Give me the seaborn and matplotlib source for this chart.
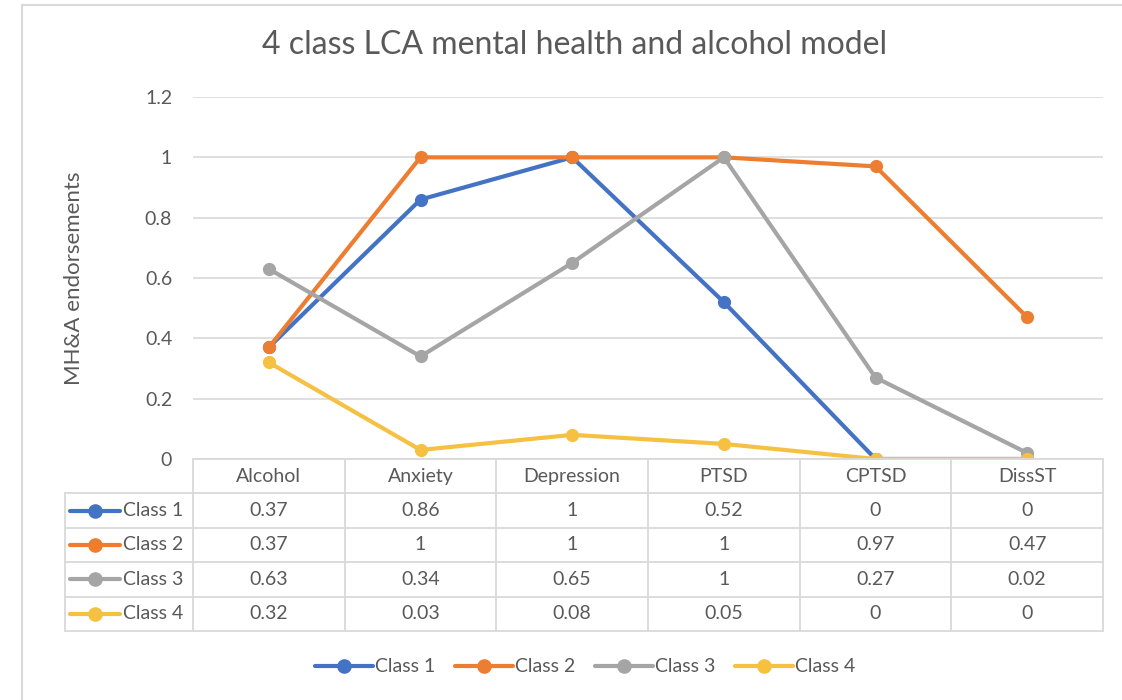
import pandas as pd
import seaborn as sns
import matplotlib.pyplot as plt
from matplotlib.lines import Line2D

# data
categories = ['Alcohol', 'Anxiety', 'Depression', 'PTSD', 'CPTSD', 'DissST']
class_names = ['Class 1', 'Class 2', 'Class 3', 'Class 4']
class1 = [0.37, 0.86, 1, 0.52, 0, 0]
class2 = [0.37, 1, 1, 1, 0.97, 0.47]
class3 = [0.63, 0.34, 0.65, 1, 0.27, 0.02]
class4 = [0.32, 0.03, 0.08, 0.05, 0, 0]
values = [class1, class2, class3, class4]
colors = ['#4472C4', '#ED7D31', '#A5A5A5', '#F6C142']

rows = []
for name, vals in zip(class_names, values):
    for cat, v in zip(categories, vals):
        rows.append({'Category': cat, 'Class': name, 'Value': v})
df = pd.DataFrame(rows)

sns.set_style('white')
plt.rcParams['font.family'] = ['Lato', 'DejaVu Sans']
text_col = '#595959'
grid_col = '#D9D9D9'

W, H = 1122, 700
fig = plt.figure(figsize=(W / 100, H / 100), dpi=100)

def px(x0, y0, x1, y1):
    return [x0 / W, 1 - y1 / H, (x1 - x0) / W, (y1 - y0) / H]

# main plot area
ax = fig.add_axes(px(193, 97, 1103, 459))
sns.lineplot(data=df, x='Category', y='Value', hue='Class', palette=colors,
             sort=False, marker='o', markersize=9.5, markeredgewidth=0,
             linewidth=3, ax=ax, legend=False)
ax.set_xlim(-0.5, 5.5)
ax.set_ylim(0, 1.2)
ax.set_yticks([0, 0.2, 0.4, 0.6, 0.8, 1, 1.2])
ax.set_yticklabels(['0', '0.2', '0.4', '0.6', '0.8', '1', '1.2'])
ax.tick_params(axis='y', length=0, pad=15, labelsize=14, labelcolor=text_col)
ax.set_xticks([])
ax.set_xlabel('')
ax.set_ylabel('MH&A endorsements', fontsize=16, color=text_col, labelpad=44)
ax.grid(axis='y', color=grid_col, linewidth=1.2)
ax.set_axisbelow(True)
for s in ax.spines.values():
    s.set_visible(False)

# data table under the plot
unit = (1103 - 193) / 6
tx0 = -0.5 - (193 - 65) / unit
tab = fig.add_axes(px(65, 459, 1103, 631))
tab.set_xlim(tx0, 5.5)
tab.set_ylim(5, 0)
tab.axis('off')
lk = dict(color=grid_col, linewidth=1.3, clip_on=False)
tab.plot([-0.5, 5.5], [0, 0], **lk)
for r in range(1, 6):
    tab.plot([tx0, 5.5], [r, r], **lk)
for c in range(7):
    tab.plot([c - 0.5, c - 0.5], [0, 5], **lk)
tab.plot([tx0, tx0], [1, 5], **lk)

for i, cat in enumerate(categories):
    tab.text(i, 0.5, cat, ha='center', va='center', fontsize=14, color=text_col)
for r, (name, vals, col) in enumerate(zip(class_names, values, colors)):
    y = r + 1.5
    tab.plot([tx0 + 0.035, tx0 + 0.36], [y, y], color=col, linewidth=3,
             solid_capstyle='round', clip_on=False)
    tab.plot([tx0 + 0.2], [y], 'o', color=col, markersize=9.5, clip_on=False)
    tab.text(tx0 + 0.385, y, name, ha='left', va='center', fontsize=14, color=text_col)
    for i, v in enumerate(vals):
        tab.text(i, y, f'{v:g}', ha='center', va='center', fontsize=14, color=text_col)

# legend at the bottom
handles = [Line2D([], [], color=c, linewidth=3, marker='o', markersize=9.5) for c in colors]
fig.legend(handles, class_names, loc='center', bbox_to_anchor=(585 / W, 1 - 667 / H),
           ncol=4, frameon=False, fontsize=14, labelcolor=text_col,
           handlelength=3.0, handletextpad=0.1, columnspacing=1.0)

fig.text(575 / W, 1 - 45 / H, '4 class LCA mental health and alcohol model',
         ha='center', va='center', fontsize=23, color=text_col)

# chart border fragments seen in the screenshot
fig.add_artist(Line2D([22 / W, 1], [1 - 5 / H, 1 - 5 / H], color=grid_col, linewidth=1.5))
fig.add_artist(Line2D([22 / W, 22 / W], [0, 1 - 5 / H], color=grid_col, linewidth=1.5))

fig.savefig('out.png', dpi=100, facecolor='white')
